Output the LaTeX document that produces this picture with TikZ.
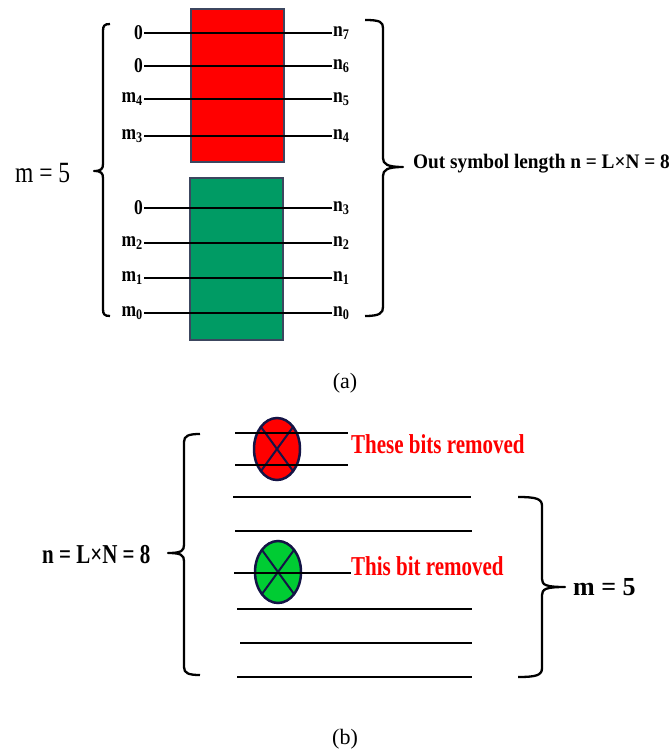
\documentclass[tikz,border=0pt]{standalone}
\usepackage{fontspec}
\setmainfont{Liberation Serif}
\usepackage{graphicx}
\usetikzlibrary{shapes.geometric,calc}
\definecolor{rectborder}{RGB}{60,70,95}
\definecolor{blockred}{RGB}{255,0,0}
\definecolor{blockgreen}{RGB}{0,155,100}
\definecolor{ellgreen}{RGB}{0,204,51}
\definecolor{navy}{RGB}{20,20,70}
\definecolor{txtred}{RGB}{255,0,0}
\begin{document}
\begin{tikzpicture}[x=1pt,y=-1pt,
  wire/.style={line width=2.4pt},
  bwire/.style={line width=2.8pt},
  bracepath/.style={line width=2.3pt, line join=round},
  block/.style={draw=rectborder, line width=1.5pt},
  inlbl/.style={font=\bfseries\fontsize{17.5}{17.5}\selectfont, inner sep=1pt},
  ell/.style={ellipse, draw=navy, line width=2.5pt, minimum width=46pt, minimum height=62pt, inner sep=0pt},
  crossline/.style={draw=navy, line width=2pt},
  redtxt/.style={text=txtred, font=\bfseries\fontsize{21}{21}\selectfont, inner sep=0pt},
  plaintxt/.style={inner sep=0pt}
]
\useasboundingbox (0,0) rectangle (669,751);

% ---------- (a) ----------
\fill[blockred] (191,9) rectangle (284,162);
\draw[block] (191,9) rectangle (284,162);
\fill[blockgreen] (190,178) rectangle (283,340);
\draw[block] (190,178) rectangle (283,340);

\foreach \i/\y/\l in {7/33/0, 6/66/0, 5/99/{m\textsubscript{4}}, 4/136/{m\textsubscript{3}},
                      3/208/0, 2/243/{m\textsubscript{2}}, 1/278/{m\textsubscript{1}}, 0/313/{m\textsubscript{0}}}{
  \node[inlbl, anchor=east] (L\i) at (144,\y) {\scalebox{1}[1.2]{\l}};
  \node[inlbl, anchor=west] (R\i) at (332,\y) {\scalebox{1}[1.2]{n\textsubscript{\i}}};
  \draw[wire] (L\i.east) -- (R\i.west);
}

% left brace (a)
\draw[bracepath] (110,24) .. controls (104,24) and (103,26) .. (103,31) -- (103,164)
  .. controls (103,169) and (101,171) .. (94,171)
  .. controls (101,171) and (103,173) .. (103,178) -- (103,309)
  .. controls (103,314) and (104,316) .. (110,316);
% right brace (a)
\draw[bracepath] (365,20) .. controls (380,20) and (383,22) .. (383,28) -- (383,158)
  .. controls (383,164) and (387,167) .. (403,167)
  .. controls (387,167) and (383,170) .. (383,176) -- (383,307)
  .. controls (383,313) and (380,316) .. (365,316);

\node[plaintxt, anchor=base west] (ma) at (15,183)
  {\fontsize{23.5}{23.5}\selectfont\scalebox{1}[1.25]{m = 5}};
\node[plaintxt, anchor=base west] (outlen) at (413,169)
  {\bfseries\fontsize{19.3}{19.3}\selectfont\scalebox{1}[1.07]{Out symbol length n = L×N = 8}};
\node[plaintxt, anchor=base] (capa) at (345,388) {\fontsize{22}{22}\selectfont (a)};

% ---------- (b) ----------
\node[ell, fill=blockred] (e1) at (277,449) {};
\draw[crossline] ($(e1.center)+(-16,-22)$) -- ($(e1.center)+(16,22)$);
\draw[crossline] ($(e1.center)+(16,-22)$) -- ($(e1.center)+(-16,22)$);
\node[ell, fill=ellgreen] (e2) at (278,572) {};
\draw[crossline] ($(e2.center)+(-16,-22)$) -- ($(e2.center)+(16,22)$);
\draw[crossline] ($(e2.center)+(16,-22)$) -- ($(e2.center)+(-16,22)$);

\draw[bwire] (235,433) -- (348,433);
\draw[bwire] (235,465) -- (348,465);
\draw[bwire] (233,497) -- (471,497);
\draw[bwire] (235,531) -- (472,531);
\draw[bwire] (234,573) -- (351,573);
\draw[bwire] (237,609) -- (472,609);
\draw[bwire] (240,643) -- (472,643);
\draw[bwire] (237,677) -- (472,677);

% left brace (b)
\draw[bracepath] (200,434) .. controls (188,434) and (184,436) .. (184,442) -- (184,545)
  .. controls (184,551) and (181,553) .. (168,553)
  .. controls (181,553) and (184,555) .. (184,561) -- (184,667)
  .. controls (184,673) and (188,675) .. (200,675);
% right brace (b)
\draw[bracepath] (518,497) .. controls (537,497) and (542,499) .. (542,506) -- (542,579)
  .. controls (542,585) and (546,587) .. (565,587)
  .. controls (546,587) and (542,589) .. (542,595) -- (542,668)
  .. controls (542,675) and (537,677) .. (518,677);

\node[redtxt, anchor=base west] (t1) at (351,453) {\scalebox{1}[1.3]{These bits removed}};
\node[redtxt, anchor=base west] (t2) at (351,575) {\scalebox{1}[1.3]{This bit removed}};
\node[plaintxt, anchor=base west] (nb) at (42,563)
  {\bfseries\fontsize{21}{21}\selectfont\scalebox{1}[1.3]{n = L×N = 8}};
\node[plaintxt, anchor=base west] (mb) at (573,595)
  {\bfseries\fontsize{26}{26}\selectfont m = 5};
\node[plaintxt, anchor=base] (capb) at (345,744) {\fontsize{22}{22}\selectfont (b)};
\end{tikzpicture}
\end{document}
